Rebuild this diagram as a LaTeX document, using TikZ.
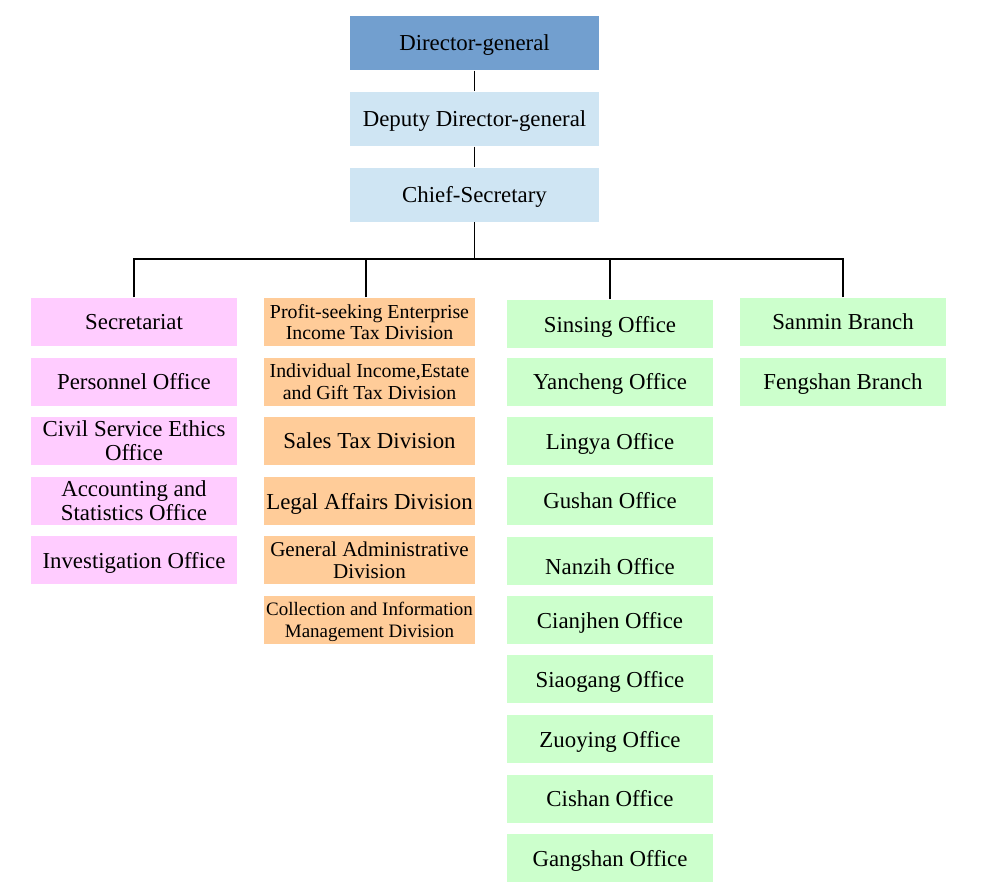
\documentclass[tikz,border=0pt]{standalone}
\usepackage{fontspec}
\setmainfont{Liberation Serif}
\usepackage{tikz}

\definecolor{dgblue}{RGB}{114,159,207}
\definecolor{lightblue}{RGB}{207,229,243}
\definecolor{pinkfill}{RGB}{255,204,255}
\definecolor{orangefill}{RGB}{255,204,153}
\definecolor{greenfill}{RGB}{204,255,204}

\begin{document}
\begin{tikzpicture}[line width=0.6pt,
	box/.style={inner sep=0pt, align=center, text depth=0pt, font=\fontsize{13}{13.7}\selectfont},
	headbox/.style={box, minimum width=4.98cm, minimum height=1.08cm},
	pinkbox/.style={box, fill=pinkfill, minimum width=4.12cm, minimum height=0.96cm},
	orangebox/.style={box, fill=orangefill, minimum width=4.22cm, minimum height=0.96cm},
	greenbox/.style={box, fill=greenfill, minimum width=4.12cm, minimum height=0.96cm},
	smalltext/.style={font=\fontsize{11.3}{12.5}\selectfont}]
	\useasboundingbox (0,0) rectangle (19.64,-17.84);
	% top of the chart
	\node[headbox, fill=dgblue] (dg) at (9.49,-0.86) {Director-general};
	\node[headbox, fill=lightblue] (deputy) at (9.49,-2.38) {Deputy Director-general};
	\node[headbox, fill=lightblue] (chief) at (9.49,-3.89) {Chief-Secretary};
	\coordinate (bus) at (9.49,-5.18);
	% first column
	\node[pinkbox] (secretariat) at (2.68,-6.44) {Secretariat};
	\node[pinkbox] (personnel) at (2.68,-7.63) {Personnel Office};
	\node[pinkbox] (ethics) at (2.68,-8.82) {Civil Service Ethics\\Office};
	\node[pinkbox] (accounting) at (2.68,-10.02) {Accounting and\\Statistics Office};
	\node[pinkbox] (investigation) at (2.68,-11.20) {Investigation Office};
	% second column
	\node[orangebox, smalltext] (profit) at (7.39,-6.44) {Profit-seeking Enterprise\\Income Tax Division};
	\node[orangebox, smalltext] (individual) at (7.39,-7.63) {Individual Income,Estate\\and Gift Tax Division};
	\node[orangebox] (sales) at (7.39,-8.82) {Sales Tax Division};
	\node[orangebox] (legal) at (7.39,-10.02) {Legal Affairs Division};
	\node[orangebox, font=\fontsize{12}{12.5}\selectfont] (general) at (7.39,-11.20) {General Administrative\\Division};
	\node[orangebox, font=\fontsize{10.8}{12.5}\selectfont] (collection) at (7.39,-12.40) {Collection and Information\\Management Division};
	% third column
	\node[greenbox] (sinsing) at (12.20,-6.48) {Sinsing Office};
	\node[greenbox] (yancheng) at (12.20,-7.63) {Yancheng Office};
	\node[greenbox] (lingya) at (12.20,-8.82) {Lingya Office};
	\node[greenbox] (gushan) at (12.20,-10.01) {Gushan Office};
	\node[greenbox] (nanzih) at (12.20,-11.22) {\raisebox{-0.2cm}{Nanzih Office}};
	\node[greenbox] (cianjhen) at (12.20,-12.40) {Cianjhen Office};
	\node[greenbox] (siaogang) at (12.20,-13.58) {Siaogang Office};
	\node[greenbox] (zuoying) at (12.20,-14.78) {Zuoying Office};
	\node[greenbox] (cishan) at (12.20,-15.97) {Cishan Office};
	\node[greenbox] (gangshan) at (12.20,-17.16) {Gangshan Office};
	% fourth column
	\node[greenbox] (sanmin) at (16.86,-6.44) {Sanmin Branch};
	\node[greenbox] (fengshan) at (16.86,-7.63) {Fengshan Branch};
	% connectors
	\draw (dg) -- (deputy);
	\draw (deputy) -- (chief);
	\draw (chief) -- (bus);
	\draw (secretariat.north) |- (bus);
	\draw ([xshift=-0.07cm]profit.north) |- (bus);
	\draw (sinsing.north) |- (bus);
	\draw (sanmin.north) |- (bus);
\end{tikzpicture}
\end{document}
